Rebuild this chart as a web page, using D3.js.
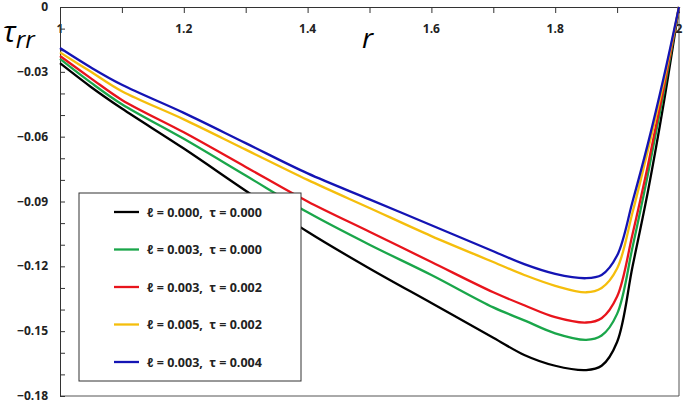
<!DOCTYPE html><html><head><meta charset="utf-8"><script src="https://cdn.jsdelivr.net/npm/d3@7"></script>
<style>body{margin:0;background:#fff}text{font-family:"Open Sans",sans-serif}</style></head><body><svg id="c" width="685" height="403"></svg>
<script>
const rVals=[1,1.05,1.1,1.2,1.3,1.4,1.5,1.6,1.7,1.75,1.8,1.85,1.875,1.9,1.925,1.95,1.975,2];
const black=[-0.026,-0.037,-0.047,-0.0655,-0.085,-0.104,-0.121,-0.137,-0.153,-0.161,-0.166,-0.168,-0.166,-0.155,-0.12,-0.085,-0.045,0];
const green=[-0.024,-0.035,-0.045,-0.061,-0.078,-0.095,-0.110,-0.124,-0.139,-0.145,-0.151,-0.154,-0.152,-0.142,-0.111,-0.077,-0.040,0];
const red=[-0.0227,-0.033,-0.043,-0.058,-0.074,-0.090,-0.104,-0.118,-0.132,-0.138,-0.1435,-0.146,-0.144,-0.134,-0.105,-0.073,-0.038,0];
const yellow=[-0.021,-0.030,-0.039,-0.052,-0.066,-0.080,-0.093,-0.106,-0.118,-0.124,-0.129,-0.132,-0.130,-0.121,-0.095,-0.066,-0.035,0];
const blue=[-0.019,-0.028,-0.036,-0.049,-0.063,-0.077,-0.089,-0.101,-0.113,-0.119,-0.1235,-0.1255,-0.124,-0.115,-0.090,-0.063,-0.033,0];
const labels=["ℓ = 0.000,  τ = 0.000","ℓ = 0.003,  τ = 0.000","ℓ = 0.003,  τ = 0.002","ℓ = 0.005,  τ = 0.002","ℓ = 0.003,  τ = 0.004"];
const colors=["#000000","#1aa64a","#e8141c","#f5be0c","#1414b4"];
const series=[black,green,red,yellow,blue];
const xTicks=[1,1.2,1.4,1.6,1.8,2];
const yTicks=[0,-0.03,-0.06,-0.09,-0.12,-0.15,-0.18];

const svg=d3.select("#c");
const x=d3.scaleLinear().domain([1,2]).range([60,679]);
const y=d3.scaleLinear().domain([0,-0.18]).range([7,396]);
svg.append("line").attr("x1",679).attr("x2",679).attr("y1",7).attr("y2",396).attr("stroke","#555");
svg.append("line").attr("x1",60).attr("x2",679).attr("y1",396).attr("y2",396).attr("stroke","#555");
const ta=svg.append("g").attr("transform","translate(0,7)").call(d3.axisBottom(x).tickValues(d3.range(1,2.001,0.1)).tickSize(6).tickFormat(""));
ta.selectAll("path,line").attr("stroke","#333");
xTicks.forEach(t=>svg.append("text").attr("x",x(t)).attr("y",33).attr("text-anchor","middle").attr("font-size",12).attr("font-weight","bold").attr("fill","#222").text(d3.format(".1f")(t).replace(/\.0$/,"")));
const la=svg.append("g").attr("transform","translate(60,0)").call(d3.axisRight(y).tickValues(d3.range(0,-0.1801,-0.01)).tickSize(5).tickFormat(""));
la.selectAll("path,line").attr("stroke","#333");
yTicks.forEach(t=>svg.append("text").attr("x",48).attr("y",y(t)+4).attr("text-anchor","end").attr("font-size",12).attr("font-weight","bold").attr("fill","#222").text(t===0?"0":d3.format(".2f")(t)));
svg.append("text").attr("x",362).attr("y",48).attr("font-family","DejaVu Serif").attr("font-style","italic").attr("font-size",28).text("r");
const tt=svg.append("text").attr("x",3).attr("y",42).attr("font-family","DejaVu Serif").attr("font-style","italic").attr("font-size",30).text("τ");
tt.append("tspan").attr("dy",6).attr("font-size",24).text("rr");
const line=d3.line().x((d,i)=>x(rVals[i])).y(d=>y(d)).curve(d3.curveCatmullRom.alpha(0.5));
series.forEach((s,i)=>svg.append("path").attr("d",line(s)).attr("fill","none").attr("stroke",colors[i]).attr("stroke-width",2.3));
svg.append("rect").attr("x",79).attr("y",193).attr("width",222).attr("height",188).attr("fill","#fff").attr("stroke","#333");
labels.forEach((l,i)=>{const yy=212+i*37.5;
 svg.append("line").attr("x1",114).attr("x2",139).attr("y1",yy).attr("y2",yy).attr("stroke",colors[i]).attr("stroke-width",2.3);
 svg.append("text").attr("x",147).attr("y",yy+4.5).attr("font-size",12.5).attr("font-weight","bold").attr("fill","#222").style("white-space","pre").text(l);});
</script></body></html>
